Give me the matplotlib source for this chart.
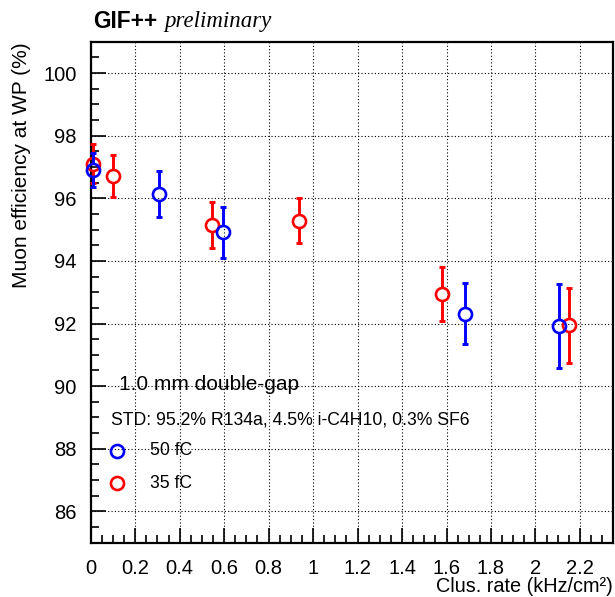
import numpy as np
import matplotlib
matplotlib.use("Agg")
import matplotlib.pyplot as plt
from matplotlib.ticker import MultipleLocator

plt.rcParams['font.family'] = ['Liberation Sans', 'DejaVu Sans']

# Cluster rate (kHz/cm^2) and muon efficiency at working point (%)
rate_50fC = [0.01, 0.309, 0.596, 1.685, 2.108]
eff_50fC = [96.91, 96.13, 94.91, 92.31, 91.93]
err_50fC = [0.55, 0.73, 0.82, 0.97, 1.34]

rate_35fC = [0.01, 0.102, 0.547, 0.935, 1.579, 2.151]
eff_35fC = [97.10, 96.70, 95.14, 95.28, 92.95, 91.94]
err_35fC = [0.62, 0.67, 0.73, 0.72, 0.87, 1.21]

W, H, DPI = 615, 597, 100
fig = plt.figure(figsize=(W / DPI, H / DPI), dpi=DPI)
ax = fig.add_axes([90.7 / W, 1 - 542.7 / H, (613.3 - 90.7) / W, (542.7 - 41.7) / H])

XMIN, XMAX, YMIN, YMAX = 0.0, 2.35, 85.0, 101.0
ax.set_xlim(XMIN, XMAX)
ax.set_ylim(YMIN, YMAX)

# axes geometry for a marker-sized gap in the error bars
ax_h_px = (542.7 - 41.7)
marker_r_px = 6.5
gap = marker_r_px / ax_h_px * (YMAX - YMIN)


def draw_series(x, y, e, color, z):
    x = np.asarray(x); y = np.asarray(y); e = np.asarray(e)
    ax.vlines(x, y + gap, y + e, color=color, lw=2.1, zorder=z, clip_on=False)
    ax.vlines(x, y - e, y - gap, color=color, lw=2.1, zorder=z, clip_on=False)
    ax.plot(x, y + e, ls='none', marker='_', ms=4, mew=2.1, color=color, zorder=z, clip_on=False)
    ax.plot(x, y - e, ls='none', marker='_', ms=4, mew=2.1, color=color, zorder=z, clip_on=False)
    ax.plot(x, y, ls='none', marker='o', ms=9.4, mfc='none', mec=color, mew=1.9, zorder=z,
            clip_on=False)


draw_series(rate_35fC, eff_35fC, err_35fC, '#ff0000', 3)
draw_series(rate_50fC, eff_50fC, err_50fC, '#0000ff', 4)

# ticks and grid
ax.xaxis.set_major_locator(MultipleLocator(0.2))
ax.xaxis.set_minor_locator(MultipleLocator(0.05))
ax.yaxis.set_major_locator(MultipleLocator(2))
ax.yaxis.set_minor_locator(MultipleLocator(0.5))
ax.tick_params(which='both', direction='in', top=False, right=False, width=1.2, colors='black')
ax.tick_params(which='major', length=10.5)
ax.tick_params(which='minor', length=5.5)
ax.tick_params(axis='y', which='major', labelsize=14.5, pad=10)
ax.tick_params(axis='x', which='major', labelsize=14.5, pad=12)
ax.xaxis.set_major_formatter(matplotlib.ticker.FuncFormatter(lambda v, p: f"{v:g}"))
ax.grid(True, which='major', color='black', ls=(0, (1, 2)), lw=0.8)
for s in ax.spines.values():
    s.set_linewidth(1.6)
    s.set_zorder(2)

fig.text(613 / W, 1 - 596 / H, 'Clus. rate (kHz/cm²)', ha='right', va='bottom', fontsize=14.3)
fig.text(22 / W, 1 - 42 / H, 'Muon efficiency at WP (%)', rotation=90, ha='center', va='top',
         fontsize=15)

# title
fig.text(93 / W, 1 - 21 / H, 'GIF++', fontsize=16.3, fontweight='bold', ha='left', va='center')
fig.text(164 / W, 1 - 21 / H, 'preliminary', fontsize=16.5, style='italic',
         family=['Liberation Serif'], ha='left', va='center')

# legend block
fig.text(119 / W, 1 - 385 / H, '1.0 mm double-gap', fontsize=15, ha='left', va='center')
fig.text(111 / W, 1 - 420 / H, 'STD: 95.2% R134a, 4.5% i-C4H10, 0.3% SF6', fontsize=12.7,
         ha='left', va='center')
ax.plot([(117 - 90.7) / (613.3 - 90.7)], [(542.7 - 450.7) / ax_h_px], transform=ax.transAxes,
        ls='none', marker='o', ms=9.4, mfc='none', mec='#0000ff', mew=1.9, clip_on=False)
ax.plot([(117 - 90.7) / (613.3 - 90.7)], [(542.7 - 483.3) / ax_h_px], transform=ax.transAxes,
        ls='none', marker='o', ms=9.4, mfc='none', mec='#ff0000', mew=1.9, clip_on=False)
fig.text(150 / W, 1 - 450.5 / H, '50 fC', fontsize=12.7, ha='left', va='center')
fig.text(150 / W, 1 - 483 / H, '35 fC', fontsize=12.7, ha='left', va='center')

fig.savefig('out.png', dpi=DPI)
